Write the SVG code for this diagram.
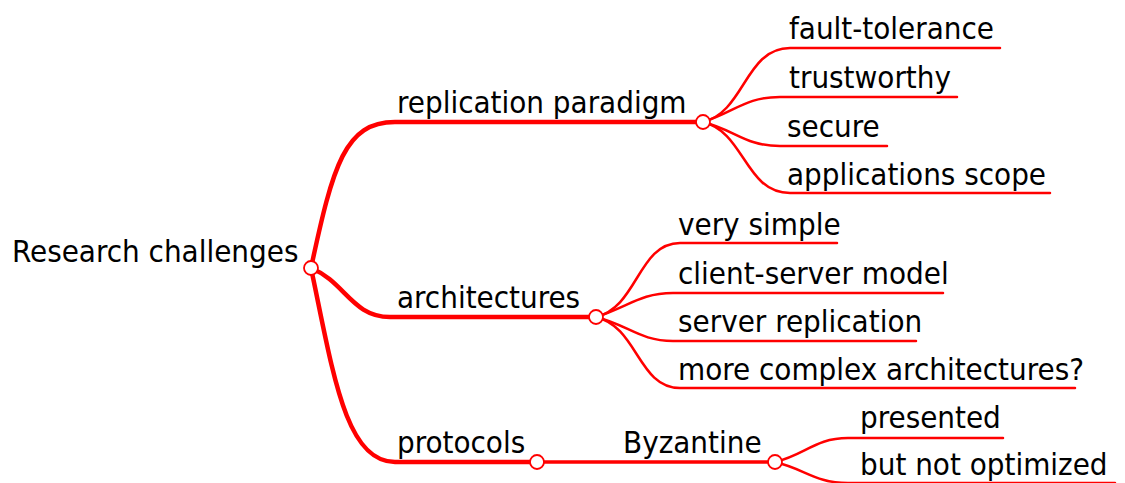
<svg xmlns="http://www.w3.org/2000/svg" width="1125" height="483" viewBox="0 0 1125 483">
<style>
text{font-family:"DejaVu Sans Condensed","DejaVu Sans",sans-serif;font-stretch:condensed;font-size:31px;fill:#000}
.main{fill:none;stroke:#ff0000;stroke-width:4.5;stroke-linecap:round}
.leaf{fill:none;stroke:#ff0000;stroke-width:2.5;stroke-linecap:round}
.knob{fill:#fff;stroke:#ff0000;stroke-width:1.8}
</style>
<rect width="1125" height="483" fill="#fff"/>
<g id="connectors">
<path class="main" d="M311,268 C333,165 345,122 395,122 L703,122"/>
<path class="main" d="M311,268 C345,282 352,317 390,317 L596,317"/>
<path class="main" d="M311,268 C333,372 345,462 395,462 L537,462"/>
<path class="main" d="M537,462 L775,462" style="stroke-width:3.5"/>
<path class="leaf" d="M703,122 C745,112 745,48 790,48 L1000,48"/>
<path class="leaf" d="M703,122 C735,112 745,97 780,97 L957,97"/>
<path class="leaf" d="M703,122 C735,130 745,146 780,146 L887,146"/>
<path class="leaf" d="M703,122 C745,132 745,193 790,193 L1050,193"/>
<path class="leaf" d="M596,317 C638,307 638,243 680,243 L837,243"/>
<path class="leaf" d="M596,317 C628,307 640,293 673,293 L943,293"/>
<path class="leaf" d="M596,317 C628,325 640,341 673,341 L916,341"/>
<path class="leaf" d="M596,317 C638,327 638,388 680,388 L1075,388"/>
<path class="leaf" d="M775,462 C805,455 815,438 848,438 L1003,438"/>
<path class="leaf" d="M775,462 C805,469 815,483 848,483 L1115,483"/>
</g>
<g id="root"><text x="12" y="262">Research challenges</text><circle class="knob" cx="311" cy="268" r="7"/></g>
<g id="replication"><text x="397" y="113">replication paradigm</text><circle class="knob" cx="703" cy="122" r="7"/></g>
<g id="architectures"><text x="397" y="308">architectures</text><circle class="knob" cx="596" cy="317" r="7"/></g>
<g id="protocols"><text x="397" y="453">protocols</text><circle class="knob" cx="537" cy="462" r="7"/></g>
<g id="byzantine"><text x="623" y="453">Byzantine</text><circle class="knob" cx="775" cy="462" r="7"/></g>
<g id="fault-tolerance"><text x="789" y="39">fault-tolerance</text></g>
<g id="trustworthy"><text x="789" y="88">trustworthy</text></g>
<g id="secure"><text x="787" y="137">secure</text></g>
<g id="applications-scope"><text x="787" y="185">applications scope</text></g>
<g id="very-simple"><text x="678" y="235">very simple</text></g>
<g id="client-server"><text x="678" y="284">client-server model</text></g>
<g id="server-replication"><text x="678" y="332">server replication</text></g>
<g id="more-complex"><text x="678" y="380">more complex architectures?</text></g>
<g id="presented"><text x="860" y="428">presented</text></g>
<g id="not-optimized"><text x="860" y="475">but not optimized</text></g>
</svg>
